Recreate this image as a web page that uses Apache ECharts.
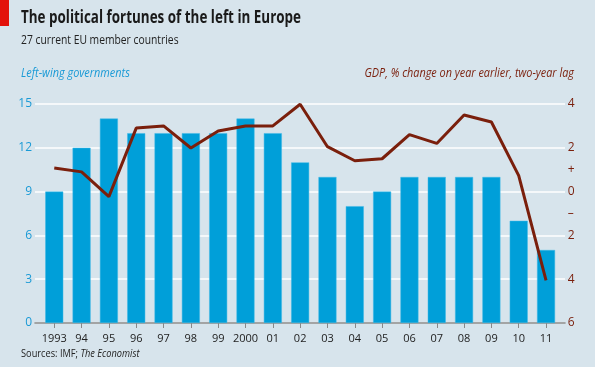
<!DOCTYPE html>
<html><head><meta charset="utf-8">
<script src="https://cdn.jsdelivr.net/npm/echarts@6/dist/echarts.min.js"></script>
<style>html,body{margin:0;padding:0;background:#d7e4ec}#c{width:595px;height:367px}</style>
</head><body><div id="c"></div>
<script>
const categories = ['1993','94','95','96','97','98','99','2000','01','02','03','04','05','06','07','08','09','10','11'];
const leftGovernments = [9,12,14,13,13,13,13,14,13,11,10,8,9,10,10,10,10,7,5];
const gdpLagged = [1.08,0.9,-0.23,2.9,3.0,1.99,2.77,3.0,3.0,3.99,2.05,1.41,1.5,2.6,2.2,3.5,3.18,0.73,-4.05];

const FONT = '"Open Sans"';
const blue = '#009fd9', brown = '#7a1f0c';
const chart = echarts.init(document.getElementById('c'));
chart.setOption({
  backgroundColor: '#d7e4ec',
  animation: false,
  textStyle: {fontFamily: FONT},
  graphic: [
    {type:'rect', shape:{x:0,y:0,width:9,height:26}, style:{fill:'#e3120b'}},
    {type:'text', x:21, y:10, scaleX:0.79, style:{text:'The political fortunes of the left in Europe', font:'bold 17px "Open Sans"', fill:'#1a1a1a', verticalAlign:'top'}},
    {type:'text', x:21, y:35, scaleX:0.86, style:{text:'27 current EU member countries', font:'12px "Open Sans"', fill:'#222', verticalAlign:'top'}},
    {type:'text', x:21, y:68, scaleX:0.91, style:{text:'Left-wing governments', font:'italic 12px "Open Sans"', fill:'#1a9ad6', verticalAlign:'top'}},
    {type:'text', x:574, y:68, scaleX:0.905, style:{text:'GDP, % change on year earlier, two-year lag', font:'italic 12px "Open Sans"', fill:brown, align:'right', verticalAlign:'top'}},
    {type:'text', x:21, y:348, scaleX:0.84, style:{text:'Sources: IMF; {i|The Economist}', font:'11px "Open Sans"', fill:'#222', verticalAlign:'top',
      rich:{i:{fontStyle:'italic', fontSize:11, fontFamily:'Open Sans', fill:'#222'}}}}
  ],
  grid: [
    {left:35, right:30, top:104, bottom:44},
    {left:40.6, right:35.3, top:104, bottom:44}
  ],
  xAxis: [
    {gridIndex:0, type:'category', data:categories, show:true, axisLine:{lineStyle:{color:'#888',width:1.5}}, axisTick:{show:false}, axisLabel:{show:false}},
    {gridIndex:1, type:'category', data:categories, axisLine:{show:false},
     axisTick:{show:true, alignWithLabel:true, interval:0, length:5, lineStyle:{color:'#888'}},
     axisLabel:{color:'#222', fontSize:11, margin:10, interval:0, fontFamily:FONT}}
  ],
  yAxis: [
    {gridIndex:0, type:'value', min:0, max:15, interval:3,
     axisLine:{show:false}, axisTick:{show:false},
     axisLabel:{color:'#1a9ad6', fontSize:12, margin:3, fontFamily:FONT},
     splitLine:{lineStyle:{color:'#fff', width:1.5}}},
    {gridIndex:1, type:'value', min:0, max:15, interval:3, show:false},
    {gridIndex:1, type:'value', position:'right', min:-6, max:4, interval:1,
     axisLine:{show:false}, axisTick:{show:false}, splitLine:{show:false},
     axisLabel:{color:brown, fontSize:12, margin:8, fontFamily:FONT,
       formatter: v => v === 1 ? '+' : (v === -1 ? '\u2013' : (v % 2 === 0 ? String(Math.abs(v)) : ''))}}
  ],
  series: [
    {type:'bar', xAxisIndex:1, yAxisIndex:1, data:leftGovernments, barWidth:18,
     itemStyle:{color:blue, borderColor:'#3fb8e6', borderWidth:0.5}},
    {type:'line', xAxisIndex:1, yAxisIndex:2, data:gdpLagged, symbol:'none',
     lineStyle:{color:brown, width:3}}
  ]
});
</script></body></html>
